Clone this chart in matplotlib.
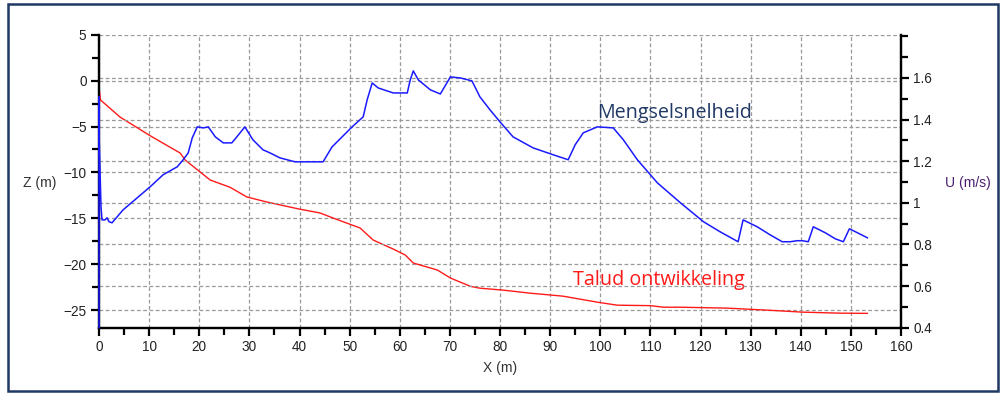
import matplotlib
matplotlib.use("Agg")
import matplotlib.pyplot as plt
from matplotlib.patches import Rectangle
from matplotlib.ticker import MultipleLocator

# Slope profile (Z) along the section
talud_x = [0.0, 0.06, 0.3, 4.2, 10.2, 16.2, 17.2, 20.2, 22.2, 26.1, 29.5, 33.5,
           39.9, 44.1, 46.7, 52.1, 54.7, 58.7, 61.1, 62.7, 67.5, 70.1, 74.1,
           76.0, 80.6, 86.0, 92.6, 99.4, 103.4, 110.0, 112.6, 116.0, 125.3,
           133.3, 140.5, 147.9, 153.3]
talud_z = [-1.0, -1.02, -2.11, -3.97, -6.0, -7.89, -8.65, -9.96, -10.83, -11.6,
           -12.67, -13.22, -13.98, -14.41, -14.96, -16.05, -17.36, -18.34,
           -18.99, -19.86, -20.62, -21.49, -22.4, -22.6, -22.81, -23.14, -23.47,
           -24.12, -24.45, -24.50, -24.67, -24.67, -24.77, -24.99, -25.21,
           -25.32, -25.34]

# Mixture velocity (U) along the section
meng_x = [0.0, 0.0, 0.05, 0.4, 0.6, 1.2, 1.6, 2.0, 2.6, 4.8, 10.2, 12.8, 15.6,
          16.8, 17.8, 18.6, 19.6, 20.8, 21.8, 23.2, 24.8, 26.5, 27.5, 29.1,
          30.7, 32.7, 34.1, 36.1, 39.1, 44.7, 46.5, 48.5, 50.5, 52.7, 53.5,
          54.5, 55.7, 58.7, 61.5, 62.1, 62.7, 63.7, 66.1, 68.1, 70.1, 72.1,
          74.4, 76.0, 78.0, 80.0, 82.6, 86.6, 90.6, 93.6, 95.0, 96.6, 99.4,
          102.6, 104.6, 107.4, 111.4, 116.0, 120.6, 123.9, 127.5, 128.5,
          131.3, 133.9, 136.3, 137.9, 139.3, 140.3, 141.5, 142.5, 144.9,
          146.9, 148.5, 149.7, 150.5, 153.3]
meng_u = [0.40, 1.51, 1.30, 0.98, 0.918, 0.918, 0.928, 0.909, 0.904, 0.966,
          1.077, 1.135, 1.173, 1.207, 1.240, 1.312, 1.365, 1.360, 1.365,
          1.317, 1.288, 1.288, 1.317, 1.365, 1.303, 1.255, 1.240, 1.216,
          1.197, 1.197, 1.269, 1.317, 1.365, 1.413, 1.495, 1.576, 1.552,
          1.528, 1.528, 1.591, 1.634, 1.591, 1.543, 1.523, 1.605, 1.600,
          1.586, 1.509, 1.447, 1.389, 1.317, 1.264, 1.231, 1.207, 1.279,
          1.336, 1.365, 1.360, 1.303, 1.207, 1.096, 1.000, 0.909, 0.861,
          0.813, 0.918, 0.885, 0.846, 0.813, 0.813, 0.818, 0.818, 0.813,
          0.885, 0.856, 0.827, 0.813, 0.875, 0.866, 0.832]

x_ticks = list(range(0, 161, 10))
z_ticks = [5, 0, -5, -10, -15, -20, -25]
u_ticks = [0.4, 0.6, 0.8, 1.0, 1.2, 1.4, 1.6]
u_tick_labels = ["0.4", "0.6", "0.8", "1", "1.2", "1.4", "1.6"]

plt.rcParams["font.family"] = ["Liberation Sans", "DejaVu Sans"]

fig = plt.figure(figsize=(10, 3.94), dpi=100)
fig.patches.append(Rectangle((0.008, 0.008), 0.99, 0.981, transform=fig.transFigure,
                             fill=False, edgecolor="#1f3864", linewidth=1.8))

ax = fig.add_axes([0.099, 0.1683, 0.802, 0.7437])
ax2 = ax.twinx()

grid_kw = dict(color="#999999", linestyle=(0, (3, 2)), linewidth=0.9)
tick_col = "#222222"

ax.set_xlim(0, 160)
ax.set_ylim(-26.9, 5)
ax2.set_ylim(0.4, 1.808)

ax.set_xticks(x_ticks)
ax.set_yticks(z_ticks)
ax.xaxis.set_minor_locator(MultipleLocator(5))
ax.yaxis.set_minor_locator(MultipleLocator(2.5))
ax2.set_yticks(u_ticks)
ax2.set_yticklabels(u_tick_labels)
ax2.yaxis.set_minor_locator(MultipleLocator(0.1))

for a in (ax, ax2):
    a.set_facecolor("none")
    a.spines["top"].set_visible(False)
    for s in ("left", "bottom", "right"):
        a.spines[s].set_linewidth(1.6)
        a.spines[s].set_color("black")
    a.tick_params(which="major", length=6, width=1.6, color="black",
                  labelsize=9.8, labelcolor=tick_col, pad=3)
    a.tick_params(which="minor", length=5, width=1.6, color="black")

ax.grid(True, axis="both", which="major", **grid_kw)
ax2.grid(True, axis="y", which="major", **grid_kw)
ax.set_axisbelow(True)
ax2.set_axisbelow(True)

ax.plot(talud_x, talud_z, color="#ff1a1a", linewidth=1.0, zorder=4, clip_on=False)
ax2.plot(meng_x, meng_u, color="#1a1aff", linewidth=1.1, zorder=4, clip_on=False)

ax.text(99.4, -3.5, "Mengselsnelheid", color="#1f3864", fontsize=14.2,
        family=["Open Sans", "DejaVu Sans"], ha="left", va="center", zorder=5)
ax.text(94.6, -21.7, "Talud ontwikkeling", color="#ff1a1a", fontsize=14.2,
        family=["Open Sans", "DejaVu Sans"], ha="left", va="center", zorder=5)

fig.text(0.040, 1 - 183 / 394, "Z (m)", fontsize=10, color="#333333",
         ha="center", va="center")
fig.text(0.968, 1 - 183 / 394, "U (m/s)", fontsize=10, color="#4b1f6f",
         ha="center", va="center")
fig.text(0.500, 1 - 368 / 394, "X (m)", fontsize=10, color="#333333",
         ha="center", va="center")

fig.savefig("out.png", dpi=100)
